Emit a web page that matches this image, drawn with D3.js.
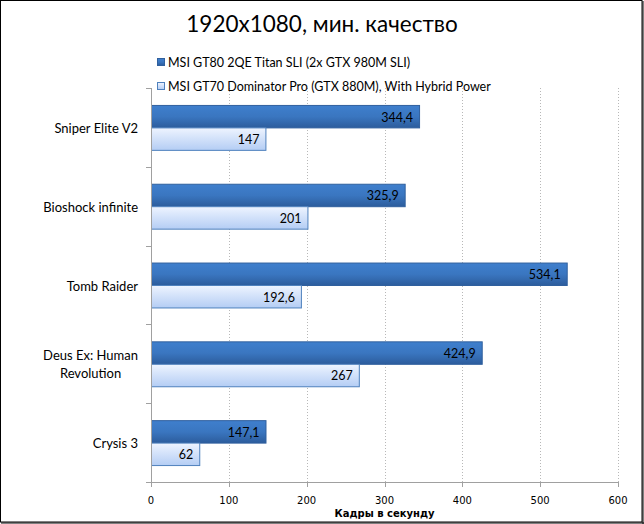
<!DOCTYPE html>
<html><head><meta charset="utf-8">
<script src="https://cdn.jsdelivr.net/npm/d3@7"></script>
<style>body{margin:0;background:#fff}svg{display:block}</style>
</head><body>
<svg id="c" width="644" height="524"></svg>
<script>
const title = "1920x1080, мин. качество";
const categories = [["Sniper Elite V2"],["Bioshock infinite"],["Tomb Raider"],["Deus Ex: Human","Revolution"],["Crysis 3"]];
const seriesNames = ["MSI GT80 2QE Titan SLI (2x GTX 980M SLI)","MSI GT70 Dominator Pro (GTX 880M), With Hybrid Power"];
const seriesA = [344.4, 325.9, 534.1, 424.9, 147.1];
const seriesB = [147, 201, 192.6, 267, 62];
const xTicks = [0,100,200,300,400,500,600];
const xTitle = "Кадры в секунду";

const svg = d3.select("#c");
const defs = svg.append("defs");
const g1 = defs.append("linearGradient").attr("id","gA").attr("x1",0).attr("y1",0).attr("x2",0).attr("y2",1);
g1.append("stop").attr("offset","0").attr("stop-color","#3f7fcd");
g1.append("stop").attr("offset","0.5").attr("stop-color","#3a76c0");
g1.append("stop").attr("offset","1").attr("stop-color","#2c5c9c");
const g2 = defs.append("linearGradient").attr("id","gB").attr("x1",0).attr("y1",0).attr("x2",0).attr("y2",1);
g2.append("stop").attr("offset","0").attr("stop-color","#eef4ff");
g2.append("stop").attr("offset","1").attr("stop-color","#b4cdf4");

// border
svg.append("rect").attr("x",0.5).attr("y",0.5).attr("width",641.5).attr("height",521.5)
  .attr("fill","none").attr("stroke","#000").attr("stroke-width",1);
svg.append("line").attr("x1",643).attr("x2",643).attr("y1",1).attr("y2",524).attr("stroke","#000").attr("stroke-width",1);
svg.append("line").attr("x1",1).attr("x2",644).attr("y1",523).attr("y2",523).attr("stroke","#000").attr("stroke-width",1);

const L = 151, R = 618, T = 88, B = 482;
const x = d3.scaleLinear().domain([0,600]).range([L,R]);
const y = d3.scaleBand().domain(d3.range(categories.length)).range([T,B]).paddingInner(0.43).paddingOuter(0.215);

// gridlines
svg.append("g").selectAll("line").data(xTicks.slice(1)).join("line")
  .attr("x1",d=>Math.round(x(d))+0.5).attr("x2",d=>Math.round(x(d))+0.5)
  .attr("y1",T).attr("y2",B)
  .attr("stroke","#b8b8b8").attr("stroke-dasharray","1,2");

// bars
const bh = y.bandwidth()/2;
svg.append("g").selectAll("rect").data(seriesA).join("rect")
  .attr("x",L+0.5).attr("y",(d,i)=>y(i)+0.5).attr("width",d=>x(d)-L).attr("height",bh)
  .attr("fill","url(#gA)").attr("stroke","#30609e");
svg.append("g").selectAll("rect").data(seriesB).join("rect")
  .attr("x",L+0.5).attr("y",(d,i)=>y(i)+bh+0.5).attr("width",d=>x(d)-L).attr("height",bh)
  .attr("fill","url(#gB)").attr("stroke","#4f81bd");

const fmt = d=>String(d).replace(".",",");
const lblFont = "Lato, 'Open Sans', sans-serif";
svg.append("g").selectAll("text").data(seriesA).join("text")
  .attr("x",d=>x(d)-6).attr("y",(d,i)=>y(i)+bh/2+1).attr("dy","0.35em")
  .attr("text-anchor","end").attr("font-family",lblFont).attr("font-size",12.5).attr("fill","#000").text(fmt);
svg.append("g").selectAll("text").data(seriesB).join("text")
  .attr("x",d=>x(d)-6).attr("y",(d,i)=>y(i)+bh*1.5+1).attr("dy","0.35em")
  .attr("text-anchor","end").attr("font-family",lblFont).attr("font-size",12.5).attr("fill","#000").text(fmt);

// y axis
const yAxis = svg.append("g");
yAxis.append("line").attr("x1",L+0.5).attr("x2",L+0.5).attr("y1",T).attr("y2",B+4).attr("stroke","#a0a0a0");
const bounds = d3.range(categories.length+1).map(i=>T+(B-T)*i/categories.length);
yAxis.selectAll("line.t").data(bounds).join("line").attr("class","t")
  .attr("x1",L-5).attr("x2",L).attr("y1",d=>Math.round(d)+0.5).attr("y2",d=>Math.round(d)+0.5).attr("stroke","#a0a0a0");

// x axis
const xAxis = svg.append("g");
xAxis.append("line").attr("x1",L-4).attr("x2",R+0.5).attr("y1",B+0.5).attr("y2",B+0.5).attr("stroke","#a0a0a0");
xAxis.selectAll("line.t").data(xTicks).join("line").attr("class","t")
  .attr("x1",d=>Math.round(x(d))+0.5).attr("x2",d=>Math.round(x(d))+0.5).attr("y1",B).attr("y2",B+5).attr("stroke","#a0a0a0");
xAxis.selectAll("text").data(xTicks).join("text")
  .attr("x",d=>x(d)).attr("y",B+22).attr("text-anchor","middle")
  .attr("font-family","'DejaVu Sans', Verdana, sans-serif").attr("font-size",10).attr("fill","#000").text(d=>d);
svg.append("text").attr("x",x(300)).attr("y",B+35).attr("text-anchor","middle")
  .attr("font-family","'DejaVu Sans', Verdana, sans-serif").attr("font-size",10).attr("font-weight","bold").text(xTitle);

// category labels
const cat = svg.append("g").selectAll("text").data(categories).join("text")
  .attr("font-family",lblFont).attr("font-size",13).attr("fill","#000").attr("text-anchor","middle");
cat.each(function(lines,i){
  const t = d3.select(this);
  const cy = y(i)+y.bandwidth()/2 + 1;
  const lh = 18;
  lines.forEach((s,k)=>{
    t.append("tspan").attr("y",cy+(k-(lines.length-1)/2)*lh).attr("dy","0.35em").text(s);
  });
  let w = 0; t.selectAll("tspan").each(function(){w=Math.max(w,this.getComputedTextLength());});
  t.selectAll("tspan").attr("x",138-w/2);
});

// title
svg.append("text").attr("x",322).attr("y",32).attr("text-anchor","middle")
  .attr("font-family",lblFont).attr("font-size",22.5).attr("fill","#000").text(title);

// legend
const leg = svg.append("g");
const legFills = ["url(#gA)","url(#gB)"], legStroke = ["#30609e","#4f81bd"];
seriesNames.forEach((s,i)=>{
  const ly = 63 + i*24;
  leg.append("rect").attr("x",157.5).attr("y",ly-4.5).attr("width",7).attr("height",7)
    .attr("fill",legFills[i]).attr("stroke",legStroke[i]);
  leg.append("text").attr("x",168).attr("y",ly).attr("dy","0.35em")
    .attr("font-family",lblFont).attr("font-size",12.5).attr("fill","#000").text(s);
});
</script>
</body></html>
